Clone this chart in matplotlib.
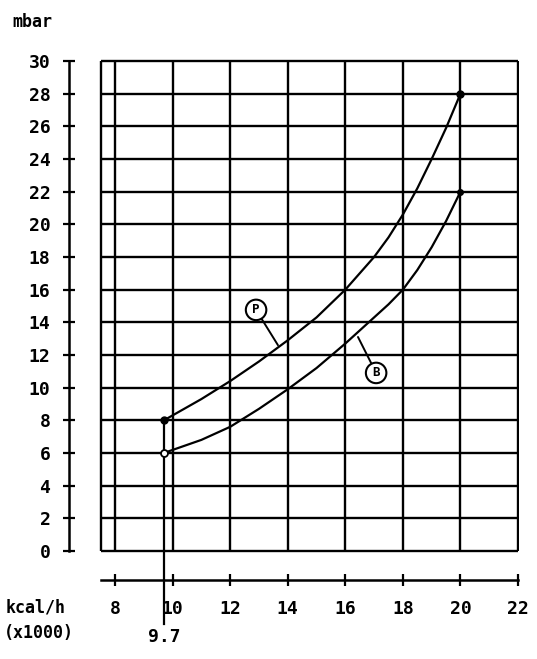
import matplotlib.pyplot as plt

# Pressure (mbar) vs. heat input (kcal/h x1000)
x_p = [9.7, 11, 12, 13, 14, 15, 16, 17, 17.5, 18, 18.5, 19, 19.5, 20]
y_p = [8.0, 9.3, 10.4, 11.6, 12.9, 14.3, 16.0, 18.0, 19.2, 20.6, 22.2, 24.0, 25.9, 28.0]

x_b = [9.7, 11, 12, 13, 14, 15, 16, 17, 17.5, 18, 18.5, 19, 19.5, 20]
y_b = [6.0, 6.8, 7.6, 8.7, 9.9, 11.2, 12.7, 14.3, 15.1, 16.0, 17.2, 18.6, 20.2, 22.0]

x_ticks = [8, 10, 12, 14, 16, 18, 20, 22]
x_tick_labels = ["8", "10", "12", "14", "16", "18", "20", "22"]
y_ticks = list(range(0, 31, 2))
y_tick_labels = [str(v) for v in y_ticks]

x_min_mark = 9.7
x_left_edge = 7.5

FONT = "DejaVu Sans Mono"
fig = plt.figure(figsize=(5.37, 6.59), dpi=100)
ax = fig.add_axes([0.1847, 0.1615, 0.7827, 0.7484])
ax.set_xlim(7.45, 22.05)
ax.set_ylim(-0.1, 30.1)

# grid box
ax.hlines(y_ticks, x_left_edge, x_ticks[-1], colors="black", linewidth=1.7)
ax.vlines([x_left_edge] + x_ticks, 0, 30, colors="black", linewidth=1.7)

# curves
ax.plot(x_p, y_p, color="black", linewidth=1.6)
ax.plot(x_b, y_b, color="black", linewidth=1.6)

# vertical line at minimum rate, running below the axis
ax.plot([x_min_mark, x_min_mark], [y_p[0], -4.5], color="black", linewidth=1.6, clip_on=False)
ax.plot(x_p[0], y_p[0], "o", color="black", markersize=5)
ax.plot(x_b[0], y_b[0], "o", markerfacecolor="white", markeredgecolor="black",
        markersize=5, markeredgewidth=1.3)
ax.plot(x_p[-1], y_p[-1], "o", color="black", markersize=5)
ax.plot(x_b[-1], y_b[-1], "o", color="black", markersize=4)

# circled curve labels
circ = dict(boxstyle="circle,pad=0.3", facecolor="white", edgecolor="black", linewidth=1.5)
ax.annotate("P", xy=(13.66, 12.6), xytext=(12.9, 14.76), ha="center", va="center",
            fontsize=9, fontweight="bold", family=FONT, bbox=circ,
            arrowprops=dict(arrowstyle="-", color="black", linewidth=1.4, shrinkA=0, shrinkB=0))
ax.annotate("B", xy=(16.44, 13.1), xytext=(17.07, 10.9), ha="center", va="center",
            fontsize=9, fontweight="bold", family=FONT, bbox=circ,
            arrowprops=dict(arrowstyle="-", color="black", linewidth=1.4, shrinkA=0, shrinkB=0))

# detached axes
for side in ["top", "right"]:
    ax.spines[side].set_visible(False)
ax.spines["left"].set_position(("outward", 21.6))
ax.spines["bottom"].set_position(("outward", 19.5))
ax.spines["left"].set_bounds(0, 30)
ax.spines["bottom"].set_bounds(x_left_edge, 22)
ax.spines["left"].set_linewidth(1.8)
ax.spines["bottom"].set_linewidth(1.8)

ax.set_xticks(x_ticks)
ax.set_xticklabels(x_tick_labels)
ax.set_yticks(y_ticks)
ax.set_yticklabels(y_tick_labels)
ax.tick_params(direction="inout", length=9, width=1.6, colors="black")
ax.tick_params(axis="y", pad=9)
ax.tick_params(axis="x", pad=10)
for lab in ax.get_xticklabels() + ax.get_yticklabels():
    lab.set_family(FONT)
    lab.set_fontweight("bold")
    lab.set_fontsize(13)

# texts
fig.text(12 / 537, 1 - 22 / 659, "mbar", family=FONT, fontweight="bold", fontsize=12,
         ha="left", va="center")
fig.text(6 / 537, 1 - 607 / 659, "kcal/h", family=FONT, fontweight="bold", fontsize=12,
         ha="left", va="center")
fig.text(4 / 537, 1 - 633 / 659, "(x1000)", family=FONT, fontweight="bold", fontsize=12,
         ha="left", va="center")
ax.text(x_min_mark, -5.3, "9.7", family=FONT, fontweight="bold", fontsize=13,
        ha="center", va="center", clip_on=False)

fig.savefig("out.png", dpi=100, facecolor="white")
